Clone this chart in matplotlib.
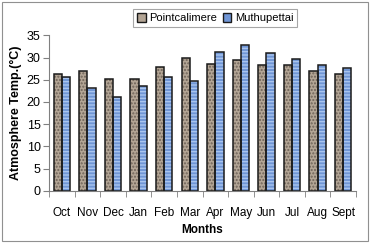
import numpy as np
import matplotlib
matplotlib.use("Agg")
import matplotlib.pyplot as plt
from matplotlib.patches import Rectangle, Patch

months = ['Oct', 'Nov', 'Dec', 'Jan', 'Feb', 'Mar', 'Apr', 'May', 'Jun', 'Jul', 'Aug', 'Sept']
pointcalimere = [26.2, 27.0, 25.1, 25.1, 28.0, 30.0, 28.6, 29.4, 28.3, 28.3, 27.0, 26.2]
muthupettai = [25.6, 23.2, 21.1, 23.5, 25.6, 24.8, 31.3, 32.9, 31.0, 29.7, 28.3, 27.7]

plt.rcParams['font.family'] = ['Liberation Sans', 'DejaVu Sans']

fig = plt.figure(figsize=(3.74, 2.48), dpi=100)
fig.patches.append(Rectangle((0.006, 0.03), 0.978, 0.96, transform=fig.transFigure,
                             fill=False, edgecolor='#909090', lw=0.8))
ax = fig.add_axes([0.131, 0.231, 0.821, 0.626])

x = np.arange(len(months))
w = 0.32
# textura de las barras
ax.bar(x - w/2, pointcalimere, w, color='#b3a595', hatch='.....', edgecolor='#6e6258', lw=0)
ax.bar(x + w/2, muthupettai, w, color='#7096d6', hatch='-----', edgecolor='#a9c4ee', lw=0)
ax.bar(x - w/2, pointcalimere, w, fill=False, edgecolor='#1a1a1a', lw=1.1)
ax.bar(x + w/2, muthupettai, w, fill=False, edgecolor='#1a1a1a', lw=1.1)

ax.set_xlim(-0.5, 11.5)
ax.set_ylim(0, 35)
ax.set_yticks(range(0, 36, 5))
ax.set_xticks(x)
ax.set_xticklabels(months, fontsize=8.5)
ax.set_xticks(np.arange(-0.5, 12, 1), minor=True)
ax.tick_params(axis='x', which='major', length=0, pad=12)
ax.tick_params(axis='x', which='minor', length=4, color='#808080', direction='out')
ax.tick_params(axis='y', labelsize=9, length=4, color='#808080', pad=2)
for s in ['top', 'right']:
    ax.spines[s].set_visible(False)
for s in ['left', 'bottom']:
    ax.spines[s].set_color('#808080')
    ax.spines[s].set_linewidth(0.8)

ax.set_ylabel('Atmosphere Temp.(°C)', fontsize=9, fontweight='bold', labelpad=3)
ax.set_xlabel('Months', fontsize=8.5, fontweight='bold', labelpad=3)

h1 = Patch(facecolor='#b3a595', edgecolor='#1a1a1a', lw=1)
h2 = Patch(facecolor='#7096d6', edgecolor='#1a1a1a', lw=1)
leg = fig.legend([h1, h2], ['Pointcalimere', 'Muthupettai'], loc='center',
                 bbox_to_anchor=(0.575, 0.928), ncol=2, fontsize=8, frameon=True,
                 fancybox=False, edgecolor='#909090', handlelength=0.8, handleheight=0.9,
                 handletextpad=0.3, columnspacing=0.5, borderpad=0.35)
leg.get_frame().set_linewidth(0.8)

fig.savefig('out.png', dpi=100)
